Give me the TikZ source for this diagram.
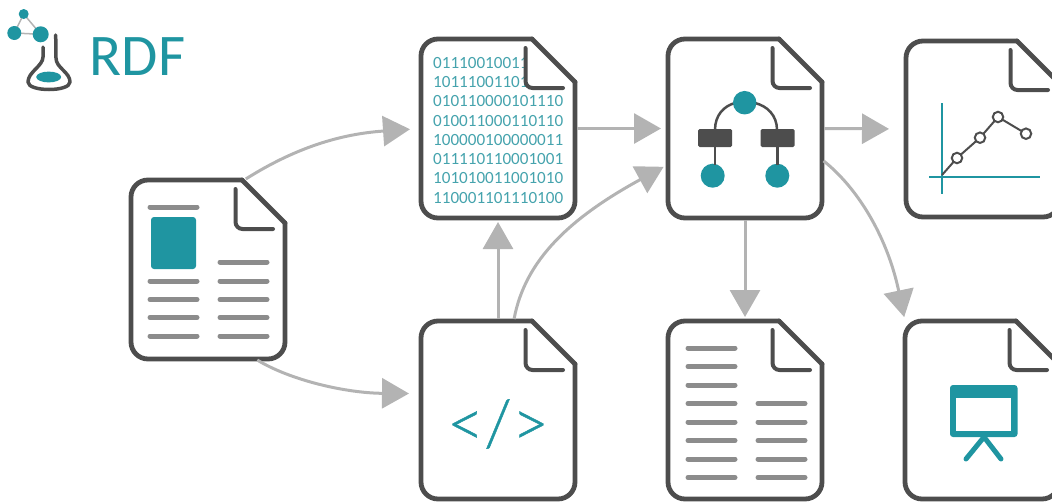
\documentclass[tikz,border=0pt]{standalone}
\usepackage{fontspec}
\setmainfont{Carlito}
\newfontfamily\codefont[UprightFont=* Light, FakeBold=0.7]{Lato}
\usetikzlibrary{arrows.meta, positioning}
\definecolor{tealfill}{HTML}{1F95A1}
\definecolor{bittext}{HTML}{45A3AD}
\definecolor{darkline}{HTML}{4D4D4D}
\definecolor{textline}{HTML}{8C8C8C}
\definecolor{flowline}{HTML}{B3B3B3}
\tikzset{
	docbox/.style={rectangle, minimum width=154pt, inner sep=0pt, outer sep=0pt},
	docline/.style={darkline, line width=4.8pt, line join=round, line cap=round},
	foldline/.style={darkline, line width=4pt, line cap=round, rounded corners=7pt},
	textbar/.style={textline, line width=5pt, line cap=round},
	flow/.style={flowline, line width=3pt, -{Triangle[length=27pt, width=30pt]}, shorten <=2pt},
	tealdot/.style={circle, fill=tealfill, inner sep=0pt, outer sep=0pt},
	chartdot/.style={circle, draw=darkline, fill=white, line width=2pt, minimum size=10.5pt, inner sep=0pt, outer sep=0pt},
	treebox/.style={rectangle, rounded corners=1.5pt, fill=darkline, minimum width=34pt, minimum height=18pt, inner sep=0pt, outer sep=0pt},
}
\begin{document}
\begin{tikzpicture}[x=1pt, y=-1pt]
	\useasboundingbox (0,0) rectangle (1052,501);
	\clip (0,0) rectangle (1052,501);
	% logo
	\draw [flowline, line width=1.5pt] (23.7,14)--(14.3,33)--(40.7,34.3)--cycle;
	\node [tealdot, minimum size=10pt] (atoma) at (23.7,14) {};
	\node [tealdot, minimum size=14pt] (atomb) at (14.3,33) {};
	\node [tealdot, minimum size=16pt] (atomc) at (40.7,34.3) {};
	\draw [darkline, line width=3.5pt, line cap=round, line join=round] (43,47)--(43,57) .. controls (43,66) and (28,72) .. (28,82) .. controls (28,92) and (70,92) .. (70,82) .. controls (70,72) and (56,68) .. (56,58)--(55.7,35);
	\fill [tealfill] (48.7,77) ellipse [x radius=12.5, y radius=5.4];
	\node [tealfill, inner sep=0pt, anchor=base west, font=\fontsize{59}{59}\selectfont] (title) at (89.5,75.5) {RDF};
	% binary text goes under the white corner of its page
	\node [bittext, inner sep=0pt, anchor=north west, align=left, font=\fontsize{17.1}{19.25}\selectfont] (digits) at (433,57) {01110010011\\10111001101\\010110000101110\\010011000110110\\100000100000011\\011110110001001\\101010011001010\\110001101110100};
	% the pages
	\foreach \name/\x/\y/\h in {paper/131/180/179, bits/421/39/179, tree/668/39/179, chart/906/41/176, code/421/321/178, lines/668/321/178, slide/905/321/178}{
		\begin{scope}[shift={(\x,\y)}]
			\node [docbox, minimum height=\h pt] (\name) at (77,{\h/2}) {};
			\fill [white] (104.5,0)--(154,0)--(154,51)--(104.5,51)--cycle;
			\draw [docline, rounded corners=17pt] (154,43)--(154,\h)--(0,\h)--(0,0)--(111,0);
			\draw [docline] (111,0)--(154,43);
			\draw [foldline] (104.5,9)--(104.5,49)--(142,49);
		\end{scope}
	}
	% paper page
	\fill [tealfill, rounded corners=3pt] (151,217) rectangle (196,269);
	\draw [textbar] (150,207)--(197,207);
	\foreach \i in {281,299.5,317.5,336}{
		\draw [textbar] (150,\i)--(197,\i);
	}
	\foreach \i in {262,281,299.5,317.5,336}{
		\draw [textbar] (220,\i)--(267,\i);
	}
	% tree page
	\draw [darkline, line width=2.5pt] (715,130) .. controls (715,115) and (724,106) .. (735,103);
	\draw [darkline, line width=2.5pt] (777,130) .. controls (777,115) and (767,106) .. (755,103);
	\node [tealdot, minimum size=23.5pt] (treetop) at (744.7,102.7) {};
	\node [treebox] (treeleft) at (715,138) {};
	\node [treebox] (treeright) at (777.5,138) {};
	\node [tealdot, minimum size=24pt] (leafleft) at (712.7,175.7) {};
	\node [tealdot, minimum size=24pt] (leafright) at (777.3,175.7) {};
	\draw [darkline, line width=2.5pt] (715,147)--(715,165);
	\draw [darkline, line width=2.5pt] (777.3,147)--(777.3,165);
	% chart page
	\draw [tealfill, line width=2.2pt] (942,103)--(942,194);
	\draw [tealfill, line width=2.2pt] (929,177)--(1040,177);
	\coordinate (origin) at (942,175);
	\node [chartdot] (pta) at (957,158) {};
	\node [chartdot] (ptb) at (980,137.7) {};
	\node [chartdot] (ptc) at (998,117) {};
	\node [chartdot] (ptd) at (1026,133.7) {};
	\draw [darkline, line width=2pt] (origin)--(pta) (pta)--(ptb) (ptb)--(ptc) (ptc)--(ptd);
	% code page
	\node [tealfill, inner sep=0pt, font=\codefont\fontsize{64}{64}\selectfont] (tags) at (498,424) {</>};
	% lines page
	\foreach \i in {348,366.5,385,403.5,422,440.5,459,477.5}{
		\draw [textbar] (688,\i)--(735,\i);
	}
	\foreach \i in {403.5,422,440.5,459,477.5}{
		\draw [textbar] (758,\i)--(805,\i);
	}
	% slide page
	\draw [tealfill, line width=5pt, line cap=round] (984,437)--(966,459);
	\draw [tealfill, line width=5pt, line cap=round] (984,437)--(1001,459);
	\fill [tealfill, rounded corners=3pt] (950,385) rectangle (1017.5,437);
	\fill [white] (956,398) rectangle (1011,431);
	% arrows between pages
	\draw [flow, shorten >=11pt] (paper.68) .. controls (295,148) and (340,134) .. (bits.west);
	\draw [flow, shorten >=12pt] (paper.-62) .. controls (290,380) and (345,393) .. (code.168);
	\draw [flow, shorten >=4pt] (code.90)--(bits.-90);
	\draw [flow, shorten >=5pt] (code.80) .. controls (525,260) and (570,218) .. (tree.205);
	\draw [flow, shorten >=7pt] (bits.east)--(tree.west);
	\draw [flow, shorten >=17pt] (tree.east)--(chart.west);
	\draw [flow, shorten >=4pt] (tree.-90)--(lines.90);
	\draw [flow, shorten >=4pt] (tree.-22) .. controls (860,190) and (888,240) .. (slide.north west);
\end{tikzpicture}
\end{document}
